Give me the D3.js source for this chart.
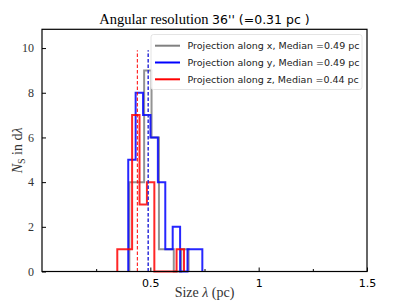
<!DOCTYPE html>
<html><head><meta charset="utf-8">
<script src="https://cdn.jsdelivr.net/npm/d3@7"></script>
<style>body{margin:0;background:#fff}svg{display:block}</style>
</head><body>
<svg id="c" width="407" height="303"></svg>
<script>
// ---- data ----
const seriesNames = ["Projection along x, Median =0.49 pc","Projection along y, Median =0.49 pc","Projection along z, Median =0.44 pc"];
const seriesColors = ["#808080","#0000ff","#ff0000"];
const binStartX = 0.403, binWidthX = 0.0342;
const countsX = [4,4,9,6,1,1,0,1];
const binStartY = 0.398, binWidthY = 0.0342;
const countsY = [5,8,7,6,4,1,2,0,1,1];
const binStartZ = 0.3475, binWidthZ = 0.0342;
const countsZ = [1,1,7,3,4,0,0,0,1];
const medians = [0.49,0.49,0.44];
const medianTop = 9.9;
const xTicksMajor = [0.5,1,1.5];
const xTickLabels = ["0.5","1","1.5"];
const xTicksMinor = [0.25,0.75,1.25];
const yTicks = [0,2,4,6,8,10];

const svg = d3.select("#c");
const L=42,R=367,T=29.3,B=271.5;
const x = d3.scaleLinear().domain([0,1.5]).range([L,R]);
const y = d3.scaleLinear().domain([0,10.84]).range([B,T]);

const series = [
  {start:binStartX,w:binWidthX,c:countsX},
  {start:binStartY,w:binWidthY,c:countsY},
  {start:binStartZ,w:binWidthZ,c:countsZ}
];
function stepPath(s){
  const pts=[[s.start,0]];
  s.c.forEach((v,i)=>{pts.push([s.start+i*s.w,v]);pts.push([s.start+(i+1)*s.w,v]);});
  pts.push([s.start+s.c.length*s.w,0]);
  return d3.line().x(d=>x(d[0])).y(d=>y(d[1]))(pts);
}
const g = svg.append("g");
series.forEach((s,i)=>{
  g.append("path").attr("d",stepPath(s)).attr("fill","none")
   .attr("stroke",seriesColors[i]).attr("stroke-width",2).attr("stroke-opacity",0.85)
   .attr("stroke-linejoin","miter");
});
medians.forEach((m,i)=>{
  g.append("line").attr("x1",x(m)).attr("x2",x(m)).attr("y1",y(0)).attr("y2",y(medianTop))
   .attr("stroke",seriesColors[i]).attr("stroke-width",1).attr("stroke-dasharray","3.5,2");
});

svg.append("rect").attr("x",L).attr("y",T).attr("width",R-L).attr("height",B-T)
  .attr("fill","none").attr("stroke","#000").attr("stroke-width",1.2);

const xAxis = d3.axisBottom(x).tickValues(xTicksMajor).tickFormat((d,i)=>xTickLabels[i]).tickSizeInner(-4).tickSizeOuter(0).tickPadding(8);
const xa = svg.append("g").attr("transform",`translate(0,${B})`).call(xAxis);
xa.select(".domain").remove();
xa.selectAll("text").attr("font-family","DejaVu Sans").attr("font-size",11).attr("fill","#000");
const xm = d3.axisBottom(x).tickValues(xTicksMinor).tickFormat("").tickSizeInner(-2.5).tickSizeOuter(0);
const xma = svg.append("g").attr("transform",`translate(0,${B})`).call(xm);
xma.select(".domain").remove();

const yAxis = d3.axisLeft(y).tickValues(yTicks).tickSizeInner(-4).tickSizeOuter(0).tickPadding(8);
const ya = svg.append("g").attr("transform",`translate(${L},0)`).call(yAxis);
ya.select(".domain").remove();
ya.selectAll("text").attr("font-family","Liberation Serif").attr("font-size",12).attr("fill","#333");

const t = svg.append("text").attr("x",(L+R)/2).attr("y",24).attr("text-anchor","middle").attr("font-size",14.5);
t.append("tspan").attr("font-family","Liberation Serif").text("Angular resolution ");
t.append("tspan").attr("font-family","DejaVu Sans").attr("font-size",12.5).text("36'' (=0.31 pc )");

const xl = svg.append("text").attr("x",(L+R)/2).attr("y",297).attr("text-anchor","middle")
  .attr("font-family","Liberation Serif").attr("font-size",14).attr("fill","#333");
xl.append("tspan").text("Size ");
xl.append("tspan").attr("font-style","italic").text("λ");
xl.append("tspan").text(" (pc)");

const yl = svg.append("text").attr("transform",`translate(22,${(T+B)/2}) rotate(-90)`).attr("text-anchor","middle")
  .attr("font-family","Liberation Serif").attr("font-size",14).attr("fill","#333");
yl.append("tspan").attr("font-style","italic").text("N");
yl.append("tspan").attr("font-size",10).attr("dy",3).text("S");
yl.append("tspan").attr("dy",-3).text(" in d");
yl.append("tspan").attr("font-style","italic").text("λ");

const lg = svg.append("g");
lg.append("rect").attr("x",151).attr("y",34.5).attr("width",211).attr("height",55).attr("rx",2.5)
  .attr("fill","#fff").attr("fill-opacity",0.85).attr("stroke","#ddd").attr("stroke-width",0.8);
seriesNames.forEach((n,i)=>{
  const yy = 45.7 + i*16.8;
  lg.append("line").attr("x1",155).attr("x2",180).attr("y1",yy).attr("y2",yy)
    .attr("stroke",seriesColors[i]).attr("stroke-width",2);
  lg.append("text").attr("x",187.5).attr("y",yy+3.5).attr("font-family","DejaVu Sans").attr("font-size",9.5)
    .attr("fill","#222").text(n);
});
</script>
</body></html>
